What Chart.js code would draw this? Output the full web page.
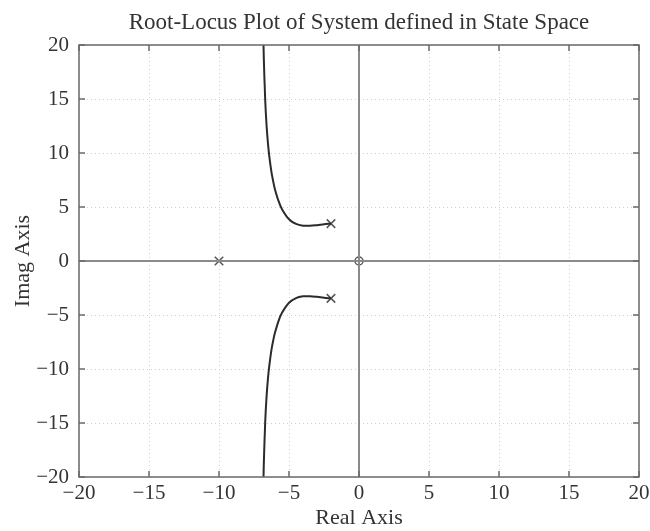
<!DOCTYPE html>
<html>
<head>
<meta charset="utf-8">
<script src="https://cdn.jsdelivr.net/npm/chart.js@4"></script>
<style>
  body { margin: 0; background: #fff; }
</style>
</head>
<body>
<canvas id="locusChart" width="650" height="531"></canvas>
<script>
// values
var tickValues = [-20, -15, -10, -5, 0, 5, 10, 15, 20];
var poleReal = [-10, -2, -2];
var poleImag = [0, 3.46, -3.46];
var zeroReal = [0];
var zeroImag = [0];
var upperReal = [-2, -2.5, -3, -3.5, -4, -4.5, -5, -5.5, -5.75, -6, -6.1, -6.25, -6.4, -6.5, -6.6, -6.7, -6.8, -6.82];
var upperImag = [3.46, 3.4, 3.32, 3.26, 3.27, 3.43, 3.87, 4.8, 5.56, 6.63, 7.19, 8.2, 9.61, 10.85, 12.5, 14.9, 18.8, 20];
var lowerReal = [-2, -2.5, -3, -3.5, -4, -4.5, -5, -5.5, -5.75, -6, -6.1, -6.25, -6.4, -6.5, -6.6, -6.7, -6.8, -6.82];
var lowerImag = [-3.46, -3.4, -3.32, -3.26, -3.27, -3.43, -3.87, -4.8, -5.56, -6.63, -7.19, -8.2, -9.61, -10.85, -12.5, -14.9, -18.8, -20];
var realBranchReal = [-10, -0.36];
var realBranchImag = [0, 0];
var titleText = 'Root-Locus Plot of System defined in State Space';

function pts(xs, ys) {
    var out = [];
    for (var i = 0; i < xs.length; i++) out.push({x: xs[i], y: ys[i]});
    return out;
}

function minus(v) {
    return v < 0 ? '\u2212' + Math.abs(v) : '' + v;
}

var serif = 'Liberation Serif';
var textColor = '#333';

// title centred over the plot box, as in the original
var plotTitle = {
    id: 'plotTitle',
    afterDraw: function(chart) {
        var c = chart.ctx, a = chart.chartArea;
        c.save();
        c.fillStyle = textColor;
        c.font = '23px "' + serif + '"';
        c.textAlign = 'center';
        c.textBaseline = 'middle';
        c.fillText(titleText, (a.left + a.right) / 2, 23);
        c.restore();
    }
};

// box with inward tick marks
var boxTicks = {
    id: 'boxTicks',
    afterDatasetsDraw: function(chart) {
        var c = chart.ctx, a = chart.chartArea;
        var xs = chart.scales.x, ys = chart.scales.y;
        c.save();
        c.strokeStyle = '#6a6a6a';
        c.lineWidth = 1.5;
        c.strokeRect(a.left, a.top, a.right - a.left, a.bottom - a.top);
        c.beginPath();
        tickValues.forEach(function(v) {
            var px = xs.getPixelForValue(v), py = ys.getPixelForValue(v);
            c.moveTo(px, a.bottom); c.lineTo(px, a.bottom - 6);
            c.moveTo(px, a.top); c.lineTo(px, a.top + 6);
            c.moveTo(a.left, py); c.lineTo(a.left + 6, py);
            c.moveTo(a.right, py); c.lineTo(a.right - 6, py);
        });
        c.stroke();
        c.restore();
    }
};

var ctx = document.getElementById('locusChart').getContext('2d');
var chart = new Chart(ctx, {
    type: 'scatter',
    data: {
        datasets: [
            {
                label: 'x axis',
                data: [{x: -20, y: 0}, {x: 20, y: 0}],
                showLine: true,
                borderColor: '#8a8a8a',
                borderWidth: 2,
                pointRadius: 0
            },
            {
                label: 'y axis',
                data: [{x: 0, y: -20}, {x: 0, y: 20}],
                showLine: true,
                borderColor: '#8a8a8a',
                borderWidth: 2,
                pointRadius: 0
            },
            {
                label: 'real branch',
                data: pts(realBranchReal, realBranchImag),
                showLine: true,
                borderColor: '#8a8a8a',
                borderWidth: 2,
                pointRadius: 0
            },
            {
                label: 'upper branch',
                data: pts(upperReal, upperImag),
                showLine: true,
                borderColor: '#2b2b2b',
                borderWidth: 2,
                tension: 0.3,
                pointRadius: 0
            },
            {
                label: 'lower branch',
                data: pts(lowerReal, lowerImag),
                showLine: true,
                borderColor: '#2b2b2b',
                borderWidth: 2,
                tension: 0.3,
                pointRadius: 0
            },
            {
                label: 'poles',
                data: pts(poleReal, poleImag),
                pointStyle: 'crossRot',
                pointRadius: 6,
                borderColor: '#555',
                borderWidth: 1.5
            },
            {
                label: 'zero',
                data: pts(zeroReal, zeroImag),
                pointStyle: 'circle',
                pointRadius: 4,
                backgroundColor: 'rgba(0,0,0,0)',
                borderColor: '#555',
                borderWidth: 1.5
            }
        ]
    },
    options: {
        responsive: false,
        animation: false,
        layout: {
            padding: {left: 0, right: 11, top: 45, bottom: 0}
        },
        plugins: {
            legend: {display: false},
            tooltip: {enabled: false},
            title: {display: false}
        },
        scales: {
            x: {
                type: 'linear',
                min: -20,
                max: 20,
                afterFit: function(scale) {
                    scale.height = 54;
                    scale.paddingLeft = 0;
                    scale.paddingRight = 0;
                },
                afterBuildTicks: function(scale) {
                    scale.ticks = tickValues.map(function(v) { return {value: v}; });
                },
                ticks: {
                    color: textColor,
                    font: {family: serif, size: 21},
                    padding: 4,
                    maxRotation: 0,
                    callback: function(v) { return minus(v); }
                },
                grid: {color: '#cfcfcf', drawTicks: false},
                border: {display: false, dash: [1, 3]},
                title: {
                    display: true,
                    text: 'Real Axis',
                    color: textColor,
                    font: {family: serif, size: 22},
                    padding: {top: 0, bottom: 0}
                }
            },
            y: {
                type: 'linear',
                min: -20,
                max: 20,
                afterFit: function(scale) {
                    scale.width = 79;
                    scale.paddingTop = 0;
                    scale.paddingBottom = 0;
                },
                afterBuildTicks: function(scale) {
                    scale.ticks = tickValues.map(function(v) { return {value: v}; });
                },
                ticks: {
                    color: textColor,
                    font: {family: serif, size: 21},
                    padding: 10,
                    callback: function(v) { return minus(v); }
                },
                grid: {color: '#cfcfcf', drawTicks: false},
                border: {display: false, dash: [1, 3]},
                title: {
                    display: true,
                    text: 'Imag Axis',
                    color: textColor,
                    font: {family: serif, size: 22},
                    padding: {top: 10, bottom: 0}
                }
            }
        }
    },
    plugins: [boxTicks, plotTitle]
});
</script>
</body>
</html>
